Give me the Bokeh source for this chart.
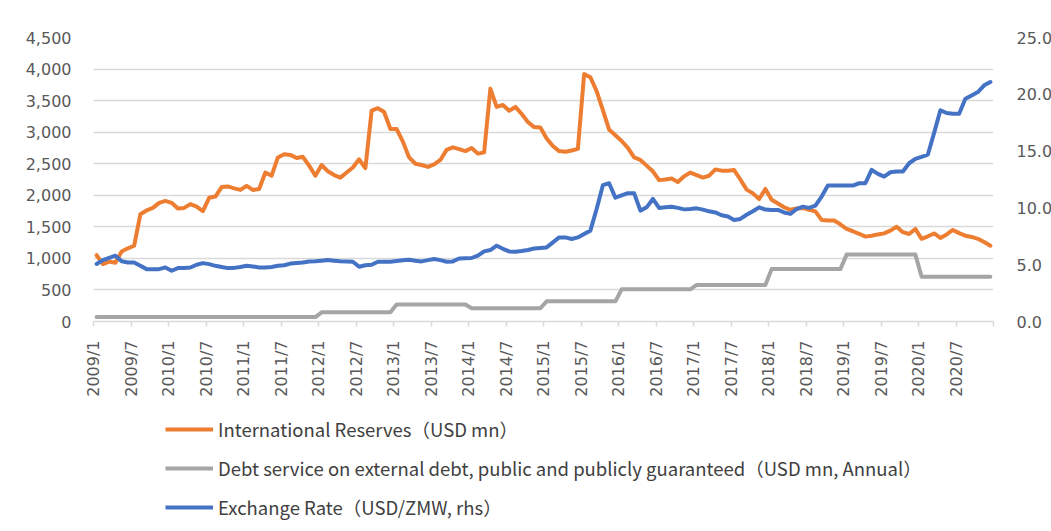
import math
import numpy as np
from bokeh.plotting import figure
from bokeh.layouts import column, row
from bokeh.models import (Range1d, LinearAxis, FixedTicker, NumeralTickFormatter,
                          Legend, LegendItem, Spacer)
from bokeh.embed import file_html
from bokeh.resources import INLINE

# International reserves, USD mn, monthly 2009/1 .. 2020/12
reserves = [
    1050, 910, 950, 930, 1110, 1160, 1200, 1700, 1760, 1800,
    1880, 1910, 1880, 1790, 1800, 1860, 1820, 1750, 1960, 1980,
    2130, 2140, 2110, 2085, 2150, 2085, 2100, 2360, 2310, 2600,
    2650, 2640, 2590, 2610, 2470, 2310, 2480, 2380, 2320, 2280,
    2360, 2440, 2570, 2430, 3340, 3380, 3320, 3050, 3050, 2850,
    2600, 2500, 2480, 2450, 2490, 2560, 2720, 2760, 2730, 2700,
    2750, 2660, 2680, 3690, 3400, 3430, 3340, 3400, 3290, 3160,
    3080, 3075, 2900, 2780, 2700, 2690, 2710, 2735, 3920, 3870,
    3650, 3350, 3040, 2950, 2860, 2750, 2600, 2560, 2470, 2380,
    2240, 2250, 2265, 2210, 2300, 2360, 2320, 2280, 2310, 2410,
    2390, 2390, 2400, 2250, 2090, 2030, 1940, 2100, 1930, 1870,
    1810, 1770, 1790, 1800, 1770, 1745, 1610, 1600, 1600, 1540,
    1466, 1430, 1390, 1345, 1360, 1380, 1396, 1440, 1500, 1415,
    1386, 1466, 1310, 1350, 1395, 1325, 1380, 1450, 1400, 1360,
    1340, 1310, 1260, 1200,
]

# Exchange rate, USD/ZMW (rhs), monthly 2009/1 .. 2020/12
exchange_rate = [
    5.06, 5.4, 5.6, 5.79, 5.3, 5.2, 5.2, 4.9, 4.61, 4.6,
    4.61, 4.76, 4.47, 4.7, 4.7, 4.75, 5.0, 5.14, 5.05, 4.9,
    4.8, 4.7, 4.72, 4.8, 4.9, 4.85, 4.76, 4.76, 4.8, 4.9,
    4.95, 5.1, 5.15, 5.2, 5.29, 5.3, 5.35, 5.41, 5.35, 5.3,
    5.28, 5.26, 4.82, 4.95, 5.0, 5.26, 5.26, 5.26, 5.33, 5.4,
    5.44, 5.35, 5.29, 5.4, 5.5, 5.4, 5.26, 5.29, 5.55, 5.57,
    5.59, 5.8, 6.17, 6.29, 6.67, 6.4, 6.17, 6.14, 6.2, 6.3,
    6.43, 6.48, 6.52, 6.96, 7.4, 7.4, 7.26, 7.4, 7.7, 8.0,
    9.9, 12.0, 12.17, 10.9, 11.1, 11.3, 11.3, 9.76, 10.05, 10.79,
    10.0, 10.05, 10.1, 10.0, 9.87, 9.9, 9.96, 9.85, 9.7, 9.6,
    9.35, 9.25, 8.94, 9.03, 9.4, 9.7, 10.05, 9.85, 9.82, 9.82,
    9.6, 9.47, 9.9, 10.11, 10.0, 10.2, 11.0, 11.97, 11.97, 11.97,
    11.97, 11.97, 12.17, 12.17, 13.35, 13.0, 12.76, 13.14, 13.2, 13.2,
    13.93, 14.32, 14.5, 14.7, 16.6, 18.6, 18.35, 18.29, 18.29, 19.6,
    19.9, 20.2, 20.79, 21.08,
]

# Debt service on external debt (annual, USD mn)
debt_years = [2009, 2010, 2011, 2012, 2013, 2014, 2015, 2016, 2017, 2018, 2019, 2020]
debt_service = [70, 70, 70, 145, 270, 210, 320, 510, 580, 830, 1060, 710]

tick_labels = ["2009/1", "2009/7", "2010/1", "2010/7", "2011/1", "2011/7",
               "2012/1", "2012/7", "2013/1", "2013/7", "2014/1", "2014/7",
               "2015/1", "2015/7", "2016/1", "2016/7", "2017/1", "2017/7",
               "2018/1", "2018/7", "2019/1", "2019/7", "2020/1", "2020/7", ""]

label_res = "International Reserves（USD mn）"
label_debt = "Debt service on external debt, public and publicly guaranteed（USD mn, Annual）"
label_fx = "Exchange Rate（USD/ZMW, rhs）"

colors = {"res": "#ED7D31", "debt": "#A5A5A5", "fx": "#4472C4"}

n = len(reserves)
x = np.arange(n) + 0.5
debt_monthly = np.repeat(debt_service, 12)

# ---------------- main chart ----------------
p = figure(frame_width=900, frame_height=284, output_backend="svg",
           toolbar_location=None, x_range=Range1d(0, 144), y_range=Range1d(0, 4500),
           min_border_left=93, min_border_right=58, min_border_top=37,
           min_border_bottom=89)
p.extra_y_ranges = {"fx": Range1d(0, 25)}
p.outline_line_color = None
p.background_fill_color = "white"
p.border_fill_color = "white"

tick_font = "DejaVu Sans"
tick_color = "#595959"

xa = p.xaxis[0]
tick_pos = list(range(0, 145, 6))
xa.ticker = FixedTicker(ticks=tick_pos)
xa.major_label_overrides = {t: lab for t, lab in zip(tick_pos, tick_labels)}
xa.major_label_orientation = math.pi / 2
xa.axis_line_color = "#d9d9d9"
xa.axis_line_width = 1.5
xa.major_tick_line_color = "#d9d9d9"
xa.major_tick_line_width = 1.5
xa.major_tick_out = 5
xa.major_tick_in = 0
xa.minor_tick_line_color = None
xa.major_label_text_font = tick_font
xa.major_label_text_font_size = "16px"
xa.major_label_text_color = tick_color
xa.major_label_standoff = 14

ya = p.yaxis[0]
ya.ticker = FixedTicker(ticks=list(range(0, 4501, 500)))
ya.formatter = NumeralTickFormatter(format="0,0")
ya.axis_line_color = None
ya.major_tick_line_color = None
ya.minor_tick_line_color = None
ya.major_label_text_font = tick_font
ya.major_label_text_font_size = "16px"
ya.major_label_text_color = tick_color
ya.major_label_standoff = 16

ra = LinearAxis(y_range_name="fx", ticker=FixedTicker(ticks=[0, 5, 10, 15, 20, 25]),
                formatter=NumeralTickFormatter(format="0.0"))
ra.axis_line_color = None
ra.major_tick_line_color = None
ra.minor_tick_line_color = None
ra.major_label_text_font = tick_font
ra.major_label_text_font_size = "16px"
ra.major_label_text_color = tick_color
ra.major_label_standoff = 17
p.add_layout(ra, "right")

p.xgrid.grid_line_color = None
p.ygrid.ticker = FixedTicker(ticks=list(range(500, 4501, 500)))
p.ygrid.grid_line_color = "#d9d9d9"
p.ygrid.grid_line_width = 1.5

p.line(x, reserves, line_color=colors["res"], line_width=4, line_join="round", line_cap="round")
p.line(x, debt_monthly, line_color=colors["debt"], line_width=4, line_join="round", line_cap="round")
p.line(x, exchange_rate, line_color=colors["fx"], line_width=4, line_join="round",
       line_cap="round", y_range_name="fx")

# ---------------- legend strip ----------------
lg = figure(width=1051 - 72, height=121, output_backend="svg", toolbar_location=None,
            x_axis_type=None, y_axis_type=None, min_border_left=93, min_border_top=6,
            min_border_right=0, min_border_bottom=0)
lg.outline_line_color = None
lg.xgrid.grid_line_color = None
lg.ygrid.grid_line_color = None
lg.background_fill_color = "white"
lg.border_fill_color = "white"
g1 = lg.line(x, reserves, line_color=colors["res"], line_width=4, visible=False)
g2 = lg.line(x, debt_monthly, line_color=colors["debt"], line_width=4, visible=False)
g3 = lg.line(x, exchange_rate, line_color=colors["fx"], line_width=4, visible=False)

legend = Legend(items=[LegendItem(label=label_res, renderers=[g1]),
                       LegendItem(label=label_debt, renderers=[g2]),
                       LegendItem(label=label_fx, renderers=[g3])],
                location="top_left", orientation="vertical",
                background_fill_alpha=0, border_line_color=None,
                label_text_font="Noto Sans CJK SC", label_text_font_size="18.5px",
                label_text_color="#404040", glyph_width=48, glyph_height=20,
                label_height=20, label_standoff=5, spacing=13, padding=0, margin=0)
lg.add_layout(legend, "center")

layout = column(p, row(Spacer(width=72, height=121), lg, spacing=0), spacing=0)
open("out.html", "w").write(file_html(layout, INLINE))
